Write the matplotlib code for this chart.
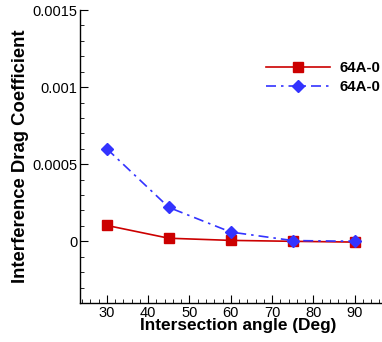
import numpy as np
import matplotlib
matplotlib.use('Agg')
import matplotlib.pyplot as plt
from matplotlib.ticker import MultipleLocator

# data
angle = [30, 45, 60, 75, 90]
cd_red = [0.000103, 0.00002, 0.000006, 0.0, -0.000005]
cd_blue = [0.0006, 0.00022, 0.00006, 0.000005, 0.0]
labels = ["64A-0", "64A-0"]

plt.rcParams['font.family'] = ['Liberation Sans', 'DejaVu Sans']

fig = plt.figure(figsize=(3.82, 3.42), dpi=100)
ax = fig.add_axes([80/382, 39/342, 316/382, 293/342])

ax.plot(angle, cd_red, color='#cc0000', lw=1.2, marker='s', ms=6.5,
        label=labels[0])
ax.plot(angle, cd_blue, color='#3333ff', lw=1.2, marker='D', ms=6,
        dashes=(6, 3, 1.5, 3), label=labels[1])

ax.set_xlim(23.5, 100)
ax.set_ylim(-0.0004, 0.0015)

ax.xaxis.set_major_locator(MultipleLocator(10))
ax.xaxis.set_minor_locator(MultipleLocator(2))
ax.yaxis.set_major_locator(MultipleLocator(0.0005))
ax.yaxis.set_minor_locator(MultipleLocator(0.0001))
ax.set_yticks([0, 0.0005, 0.001, 0.0015])
ax.set_yticklabels(["0", "0.0005", "0.001", "0.0015"])
ax.set_xticks([30, 40, 50, 60, 70, 80, 90])

ax.spines['top'].set_visible(False)
ax.spines['right'].set_visible(False)
for s in ['left', 'bottom']:
    ax.spines[s].set_linewidth(1.0)

ax.tick_params(which='both', direction='in', labelsize=10.5, pad=2)
ax.tick_params(which='major', length=6)
ax.tick_params(which='minor', length=3)

ax.set_xlabel("Intersection angle (Deg)", fontsize=12.4, fontweight='bold',
              labelpad=-1)
ax.set_ylabel("Interference Drag Coefficient", fontsize=13.3,
              fontweight='bold', labelpad=2)

ax.legend(loc='upper left', bbox_to_anchor=(252/382, 1 - 48/342),
          bbox_transform=fig.transFigure, frameon=False,
          prop={'weight': 'bold', 'size': 10.8}, handlelength=4.3,
          handletextpad=0.6, labelspacing=0.3)

fig.savefig('out.png', dpi=100)
